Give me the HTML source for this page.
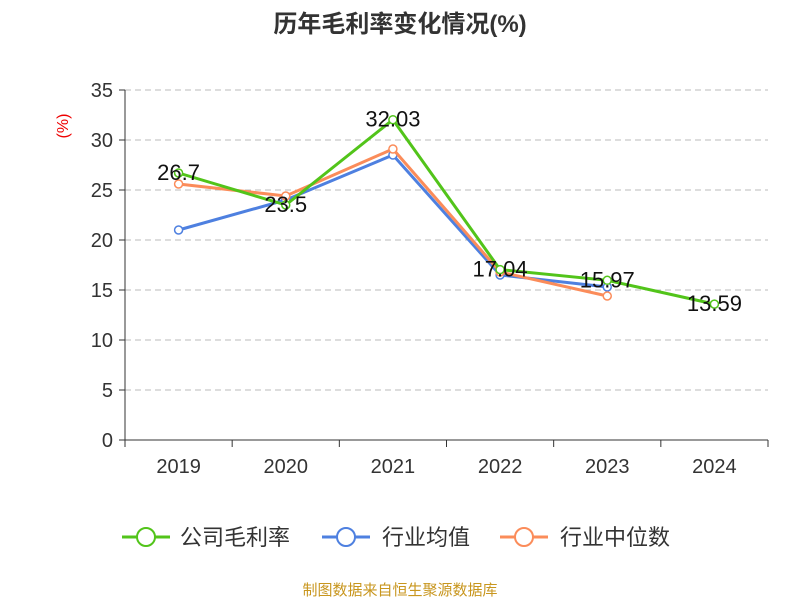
<!DOCTYPE html>
<html><head><meta charset="utf-8"><style>
body{margin:0;background:#fff;}
svg{display:block;font-family:"Liberation Sans","Noto Sans CJK SC",sans-serif;}
</style></head><body>
<svg id="c" width="800" height="600">
<text x="400" y="32" text-anchor="middle" font-size="24" font-weight="bold" fill="#333">历年毛利率变化情况(%)</text>
<text transform="translate(68,126) rotate(-90)" text-anchor="middle" font-size="16" fill="#e00">(%)</text>
<g id="grid"></g><g id="axes"></g><g id="series"></g><g id="labels"></g>
<g>
<g><line x1="122" y1="537" x2="170" y2="537" stroke="#52c41a" stroke-width="3"/><circle cx="146" cy="537" r="9" fill="#fff" stroke="#52c41a" stroke-width="2"/><text x="180" y="545" font-size="22" fill="#333">公司毛利率</text></g>
<g><line x1="322" y1="537" x2="370" y2="537" stroke="#4e80e0" stroke-width="3"/><circle cx="346" cy="537" r="9" fill="#fff" stroke="#4e80e0" stroke-width="2"/><text x="382" y="545" font-size="22" fill="#333">行业均值</text></g>
<g><line x1="500" y1="537" x2="548" y2="537" stroke="#fb8c5a" stroke-width="3"/><circle cx="524" cy="537" r="9" fill="#fff" stroke="#fb8c5a" stroke-width="2"/><text x="560" y="545" font-size="22" fill="#333">行业中位数</text></g>
</g>
<text x="400" y="595" text-anchor="middle" font-size="15" fill="#c8961e">制图数据来自恒生聚源数据库</text>
</svg>
<script>
const categories=["2019","2020","2021","2022","2023","2024"];
const companyValues=[26.7,23.5,32.03,17.04,15.97,13.59];
const industryAvg=[21.0,24.0,28.5,16.5,15.3,null];
const industryMedian=[25.6,24.4,29.1,16.8,14.4,null];
const yTicks=[0,5,10,15,20,25,30,35];
const NS="http://www.w3.org/2000/svg";
const L=125,R=768,T=90,B=440,yMax=35;
const bw=(R-L)/categories.length;
const xs=i=>L+bw*(i+0.5);
const ys=v=>B-(v/yMax)*(B-T);
function mk(tag,attrs,parent){const e=document.createElementNS(NS,tag);for(const k in attrs)e.setAttribute(k,attrs[k]);parent.appendChild(e);return e;}
const grid=document.getElementById('grid'),axes=document.getElementById('axes'),series=document.getElementById('series'),labels=document.getElementById('labels');
yTicks.forEach(t=>{
 if(t>0){const g=mk('line',{x1:L,x2:R,y1:ys(t),y2:ys(t),stroke:'#bbb','stroke-dasharray':'6,4'},grid);
 
 }
 const tk=mk('line',{x1:L-6,x2:L,y1:ys(t),y2:ys(t),stroke:'#333'},axes);
 
 
 const tx=mk('text',{x:L-12,y:ys(t)+7,'text-anchor':'end','font-size':20,fill:'#333'},axes);tx.textContent=t;
 
 
});
const ya=mk('line',{x1:L,x2:L,y1:T,y2:B,stroke:'#333'},axes);


const xa=mk('line',{x1:L,x2:R,y1:B,y2:B,stroke:'#333'},axes);


for(let i=0;i<=categories.length;i++){const tk=mk('line',{x1:L+bw*i,x2:L+bw*i,y1:B,y2:B+7,stroke:'#333'},axes);
 
 }
categories.forEach((c,i)=>{const tx=mk('text',{x:xs(i),y:B+33,'text-anchor':'middle','font-size':20,fill:'#333'},axes);tx.textContent=c;
 
 });
function drawSeries(vals,color,name){
 const pts=vals.map((v,i)=>v==null?null:[xs(i),ys(v)]).filter(p=>p);
 const pl=mk('polyline',{points:pts.map(p=>p.join(',')).join(' '),fill:'none',stroke:color,'stroke-width':3},series);
 
 
 pts.forEach(p=>{const c=mk('circle',{cx:p[0],cy:p[1],r:4,fill:'#fff',stroke:color,'stroke-width':1.5},series);
 
 });
}
drawSeries(industryAvg,'#4e80e0','industry-avg');
drawSeries(industryMedian,'#fb8c5a','industry-median');
drawSeries(companyValues,'#52c41a','company');
companyValues.forEach((v,i)=>{const tx=mk('text',{x:xs(i),y:ys(v)+7,'text-anchor':'middle','font-size':22,fill:'#111'},labels);tx.textContent=v;
 
 });
</script>
</body></html>
